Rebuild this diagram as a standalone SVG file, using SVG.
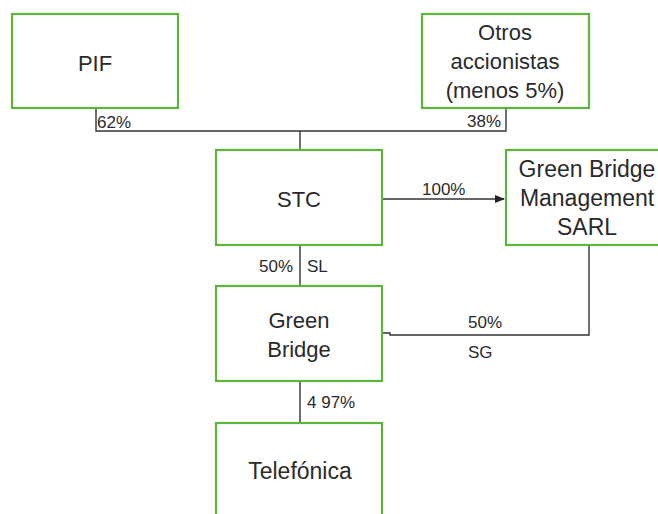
<svg xmlns="http://www.w3.org/2000/svg" width="658" height="514" viewBox="0 0 658 514">
<style>
.box{fill:#fff;stroke:#5db53c;stroke-width:2.2}
.t{font-family:"Liberation Sans",Arial,sans-serif;font-size:22px;fill:#2a2a2a;text-anchor:middle}
.b{font-size:23px}
.l{font-family:"Liberation Sans",Arial,sans-serif;font-size:17px;fill:#2a2a2a}
.c{fill:none;stroke:#333;stroke-width:1.4}
</style>
<defs>
<marker id="ah" markerWidth="10" markerHeight="10" refX="9" refY="5" orient="auto" markerUnits="userSpaceOnUse">
<path d="M0,1 L10,5 L0,9 Z" fill="#222"/>
</marker>
</defs>
<rect width="658" height="514" fill="#fff"/>
<g id="connectors">
<polyline class="c" points="96,108 96,131 506,131 506,108"/>
<line class="c" x1="300" y1="131" x2="300" y2="150"/>
<line class="c" x1="382" y1="199" x2="504" y2="199" marker-end="url(#ah)"/>
<line class="c" x1="300" y1="245" x2="300" y2="286"/>
<polyline class="c" points="382,333 390,333 390,335 589,335 589,245"/>
<line class="c" x1="300" y1="381" x2="300" y2="423"/>
<text class="l" x="97" y="128">62%</text>
<text class="l" x="467" y="127">38%</text>
<text class="l" x="422" y="195">100%</text>
<text class="l" x="259" y="272">50%</text>
<text class="l" x="307" y="272">SL</text>
<text class="l" x="468" y="328">50%</text>
<text class="l" x="468" y="358">SG</text>
<text class="l" x="307" y="408">4 97%</text>
</g>
<g id="pif">
<rect class="box" x="12" y="14" width="166" height="94"/>
<text class="t" x="95" y="71">PIF</text>
</g>
<g id="otros">
<rect class="box" x="422" y="14" width="167" height="94"/>
<text class="t" x="505" y="40">Otros</text>
<text class="t" x="505" y="69">accionistas</text>
<text class="t" x="505" y="98">(menos 5%)</text>
</g>
<g id="stc">
<rect class="box" x="216" y="150" width="166" height="95"/>
<text class="t" x="299" y="207">STC</text>
</g>
<g id="gbm">
<rect class="box" x="506" y="150" width="166" height="95"/>
<text class="t b" x="587" y="177">Green Bridge</text>
<text class="t b" x="587" y="206">Management</text>
<text class="t b" x="587" y="235">SARL</text>
</g>
<g id="greenbridge">
<rect class="box" x="216" y="286" width="166" height="95"/>
<text class="t" x="299" y="328">Green</text>
<text class="t" x="299" y="357">Bridge</text>
</g>
<g id="telefonica">
<rect class="box" x="216" y="423" width="166" height="100"/>
<text class="t b" x="300" y="479">Telefónica</text>
</g>
</svg>
